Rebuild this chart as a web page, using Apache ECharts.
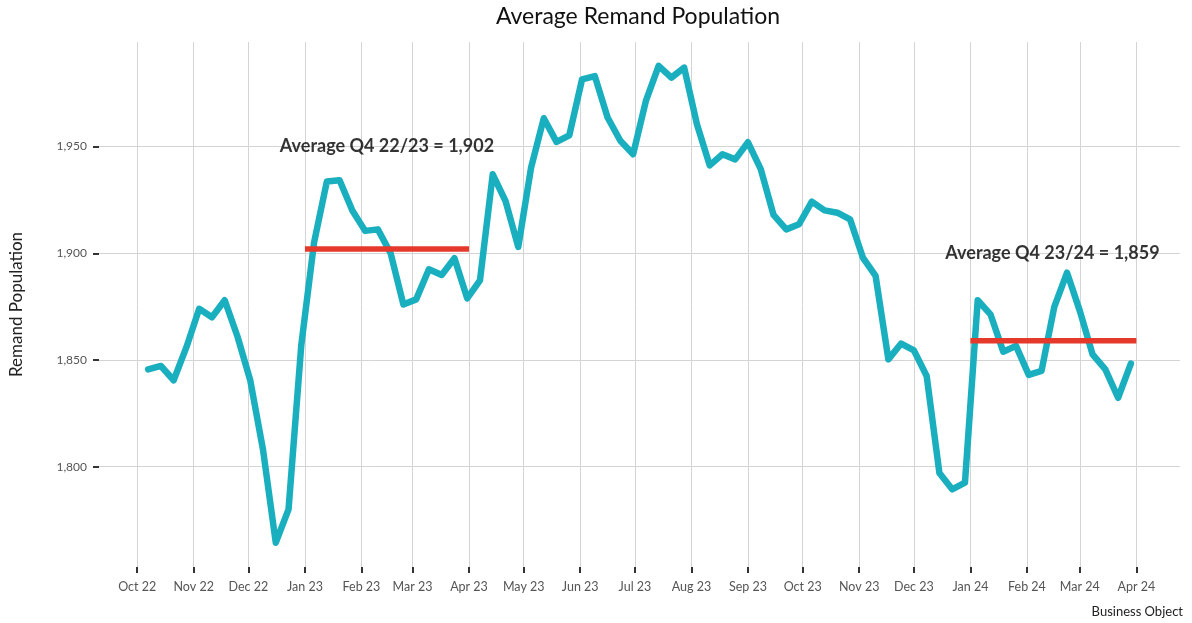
<!DOCTYPE html>
<html lang="en">
<head>
    <meta charset="UTF-8">
    <script src="https://cdn.jsdelivr.net/npm/echarts@6/dist/echarts.min.js"></script>
    <title>Average Remand Population</title>
    <style>
        html, body { margin: 0; padding: 0; background: #fff; }
        #main { width: 1192px; height: 623px; }
    </style>
</head>
<body>
<div id="main"></div>

<script type="text/javascript">
    // weekly figures, one per Friday starting 7 Oct 2022
    var firstWeek = [2022, 9, 7];
    var remand = [
        1845.6, 1847.2, 1840.5, 1856.0, 1874.0, 1870.0, 1878.0, 1861.0, 1840.5, 1808.0,
        1764.4, 1780.0, 1857.0, 1905.0, 1933.6, 1934.2, 1920.0, 1910.5, 1911.2, 1900.0,
        1876.0, 1878.4, 1892.5, 1889.8, 1897.7, 1878.9, 1887.3, 1937.0, 1924.5, 1903.0,
        1940.0, 1963.3, 1952.2, 1955.3, 1981.5, 1983.0, 1963.6, 1952.7, 1946.4, 1971.4,
        1987.8, 1982.3, 1987.0, 1960.5, 1941.2, 1946.4, 1944.0, 1952.0, 1939.4, 1918.0,
        1911.2, 1913.6, 1924.2, 1920.1, 1919.0, 1915.9, 1898.0, 1889.4, 1850.3, 1857.7,
        1854.5, 1842.5, 1797.0, 1789.4, 1792.5, 1878.0, 1871.4, 1853.9, 1856.6, 1843.0,
        1844.9, 1874.9, 1890.9, 1873.0, 1852.6, 1845.6, 1832.3, 1848.3
    ];

    // quarter averages (start, end, value) and their text
    var q4Start = [[2023, 0, 1], [2024, 0, 1]];
    var q4End = [[2023, 3, 1], [2024, 3, 1]];
    var q4Avg = [1902, 1859];
    var q4Text = ['Average Q4 22/23 = 1,902', 'Average Q4 23/24 = 1,859'];
    var q4TextAt = [[[2023, 1, 15], 1950], [[2024, 1, 15], 1900]];

    // axis ticks: first of each month Oct 22 .. Apr 24, and y every 50
    var firstTickMonth = [2022, 9];
    var monthTickCount = 19;
    var yTicks = [1800, 1850, 1900, 1950];
    var monthNames = ['Jan', 'Feb', 'Mar', 'Apr', 'May', 'Jun', 'Jul', 'Aug', 'Sep', 'Oct', 'Nov', 'Dec'];

    function toTime(d) { return new Date(d[0], d[1], d[2]).getTime(); }

    var weekData = [];
    for (var i = 0; i < remand.length; i++) {
        var d = new Date(firstWeek[0], firstWeek[1], firstWeek[2] + 7 * i);
        weekData.push([d.getTime(), remand[i]]);
    }

    var monthTicks = [];
    for (var m = 0; m < monthTickCount; m++) {
        monthTicks.push(new Date(firstTickMonth[0], firstTickMonth[1] + m, 1).getTime());
    }

    // ggplot-like 5% padding around the data
    var span = weekData[weekData.length - 1][0] - weekData[0][0];
    var xMin = weekData[0][0] - span * 0.05;
    var xMax = weekData[weekData.length - 1][0] + span * 0.05;

    var avgSeries = q4Avg.map(function (v, k) {
        return {
            type: 'line',
            data: [[toTime(q4Start[k]), v], [toTime(q4End[k]), v]],
            symbol: 'none',
            lineStyle: { color: '#e5392c', width: 5.5, cap: 'butt' },
            z: 4,
            silent: true
        };
    });

    var chart = echarts.init(document.getElementById('main'));
    var option = {
        animation: false,
        textStyle: { fontFamily: 'Lato' },
        grid: { left: 97, right: 12, top: 42, bottom: 56 },
        graphic: [
            { type: 'text', x: 638, y: 17,
              style: { text: 'Average Remand Population', fontFamily: 'Lato', fontSize: 23, fill: '#111',
                       textAlign: 'center', textVerticalAlign: 'middle' } },
            { type: 'text', right: 9, bottom: 5,
              style: { text: 'Business Object', fontFamily: 'Lato', fontSize: 13, fill: '#222' } }
        ],
        xAxis: {
            type: 'value',
            min: xMin,
            max: xMax,
            axisLine: { show: false },
            axisTick: { show: true, length: 6, lineStyle: { color: '#333', width: 2 }, customValues: monthTicks },
            axisLabel: {
                color: '#555', fontSize: 12.5, margin: 13, customValues: monthTicks,
                formatter: function (v) {
                    var d = new Date(v);
                    return monthNames[d.getMonth()] + ' ' + String(d.getFullYear()).slice(2);
                }
            },
            splitLine: { show: true, lineStyle: { color: '#d4d4d4', width: 1 } }
        },
        yAxis: {
            type: 'value',
            min: 1753,
            max: 1999,
            name: 'Remand Population',
            nameLocation: 'middle',
            nameGap: 74,
            nameTextStyle: { fontSize: 17, color: '#222' },
            axisLine: { show: false },
            axisTick: { show: true, length: 6, lineStyle: { color: '#333', width: 2 }, customValues: yTicks },
            axisLabel: {
                color: '#555', fontSize: 12, margin: 12, customValues: yTicks,
                formatter: function (v) { return v.toLocaleString('en-US'); }
            },
            splitLine: { show: true, lineStyle: { color: '#d4d4d4', width: 1 } }
        },
        series: [
            {
                type: 'line',
                data: weekData,
                symbol: 'none',
                lineStyle: { color: '#1aafbf', width: 6.5, join: 'round', cap: 'round' },
                z: 3
            }
        ].concat(avgSeries).concat([
            {
                type: 'scatter',
                symbolSize: 0,
                data: q4TextAt.map(function (p, k) { return { value: [toTime(p[0]), p[1]], name: q4Text[k] }; }),
                label: {
                    show: true, position: 'inside', formatter: '{b}',
                    fontFamily: 'Lato', fontSize: 18, fontWeight: 'bold', color: '#000'
                },
                z: 5,
                silent: true
            }
        ])
    };
    chart.setOption(option);
</script>
</body>
</html>
